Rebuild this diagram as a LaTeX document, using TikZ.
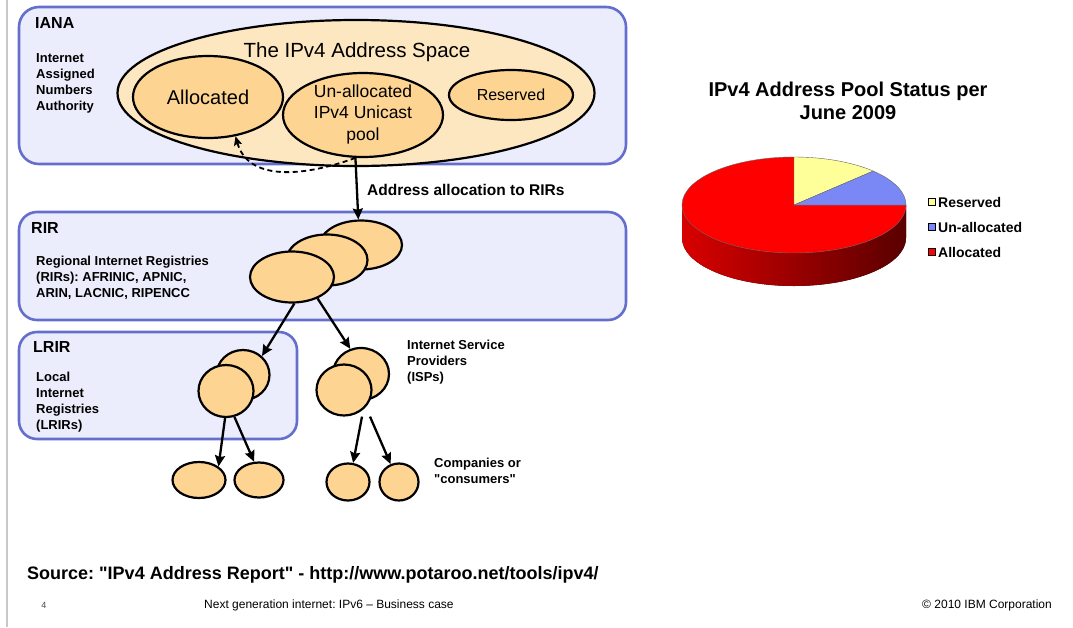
\documentclass[tikz,border=0pt]{standalone}
\usepackage{fontspec}
\setmainfont{Liberation Sans}
\usepackage{tikz}
\usetikzlibrary{positioning}
\usetikzlibrary{shapes.geometric, arrows.meta}
\frenchspacing
\definecolor{boxblue}{RGB}{100,110,205}
\definecolor{boxfill}{RGB}{236,237,252}
\definecolor{spacefill}{RGB}{253,231,192}
\definecolor{poolfill}{RGB}{253,212,146}
\definecolor{slicered}{RGB}{255,0,0}
\definecolor{sliceyellow}{RGB}{255,255,153}
\definecolor{sliceblue}{RGB}{122,136,245}
\definecolor{sidegray}{RGB}{200,200,200}
\tikzstyle{arrow} = [line width=2.3pt,-{Stealth[length=11pt,width=10pt,inset=1.5pt]}]
\tikzstyle{dasharrow} = [line width=1.8pt,dash pattern=on 5pt off 3.5pt,-{Stealth[length=9pt,width=8pt,inset=1.5pt]}]
\tikzset{
	groupbox/.style={draw=boxblue, line width=2.6pt, fill=boxfill, rounded corners=18pt, inner sep=0pt},
	outerell/.style={ellipse, draw, line width=2.2pt, fill=spacefill, inner sep=0pt},
	poolell/.style={ellipse, draw, line width=2.2pt, fill=poolfill, inner sep=0pt},
	heading/.style={font=\fontsize{16}{19}\selectfont\bfseries, anchor=west, inner sep=0pt},
	bodytext/.style={font=\fontsize{13}{16}\selectfont\bfseries, align=left, anchor=west, inner sep=0pt},
	legendbox/.style={draw, line width=1pt, minimum size=7pt, inner sep=0pt},
	legendtext/.style={font=\fontsize{14}{16}\selectfont\bfseries, inner sep=0pt}
}

\begin{document}
\begin{tikzpicture}[x=1pt, y=-1pt]
	%Frame
	\useasboundingbox (0,0) rectangle (1073,627);
	\fill[white] (0,0) rectangle (1073,627);
	\draw[sidegray, line width=1.5pt] (7,0) -- (7,627);
	
	%Boxes
	\node[groupbox, rounded corners=20pt, minimum width=607pt, minimum height=157pt] (iana) at (322.5,85.5) {};
	\node[groupbox, minimum width=607pt, minimum height=108pt] (rir) at (322.5,266) {};
	\node[groupbox, minimum width=278pt, minimum height=107pt] (lrir) at (158,385.5) {};
	
	\node[heading] (ianahead) at (35,23) {IANA};
	\node[bodytext] (ianabody) at (36,83) {Internet\\Assigned\\Numbers\\Authority};
	\node[heading] (rirhead) at (31,228) {RIR};
	\node[bodytext] (rirbody) at (36,278) {Regional Internet Registries\\(RIRs): AFRINIC, APNIC,\\ARIN, LACNIC, RIPENCC};
	\node[heading] (lrirhead) at (33,347) {LRIR};
	\node[bodytext] (lrirbody) at (36,402) {Local\\Internet\\Registries\\(LRIRs)};
	
	%Address space
	\node[outerell, minimum width=477pt, minimum height=146pt] (space) at (356,93) {};
	\node[font=\fontsize{20.5}{24}\selectfont, inner sep=0pt] (spacetitle) at (357,52) {The IPv4 Address Space};
	\node[poolell, minimum width=150pt, minimum height=82pt, font=\fontsize{20}{24}\selectfont] (alloc) at (208,97) {Allocated};
	\node[poolell, minimum width=160pt, minimum height=84pt] (unalloc) at (363,115) {};
	\node[font=\fontsize{17.5}{21.5}\selectfont, align=center, inner sep=0pt] (unalloctext) at (363,114) {Un-allocated\\IPv4 Unicast\\pool};
	\node[poolell, minimum width=124pt, minimum height=50pt, font=\fontsize{16}{19}\selectfont] (reserved) at (511,95) {Reserved};
	
	%Registries
	\node[poolell, minimum width=82pt, minimum height=49pt] (rirback) at (361,245) {};
	\node[poolell, minimum width=81pt, minimum height=51pt] (rirmid) at (327,260) {};
	\node[poolell, minimum width=84pt, minimum height=51pt] (rirfront) at (292,277) {};
	
	\node[poolell, minimum width=53pt, minimum height=50pt] (lrirback) at (243,375) {};
	\node[poolell, minimum width=55pt, minimum height=52pt] (lrirfront) at (226,391) {};
	\node[poolell, minimum width=56pt, minimum height=52pt] (ispback) at (361,374) {};
	\node[poolell, minimum width=55pt, minimum height=51pt] (ispfront) at (344,390) {};
	
	\node[poolell, minimum width=53pt, minimum height=36pt] (leafa) at (199,480) {};
	\node[poolell, minimum width=49pt, minimum height=35pt] (leafb) at (259,480) {};
	\node[poolell, minimum width=43pt, minimum height=37pt] (leafc) at (348,482) {};
	\node[poolell, minimum width=39pt, minimum height=37pt] (leafd) at (399,482) {};
	
	\node[bodytext] (isptext) at (407,362) {Internet Service\\Providers\\(ISPs)};
	\node[bodytext] (consumertext) at (434,471) {Companies or\\\textquotedbl consumers\textquotedbl};
	
	%Lines
	\draw[dasharrow] (unalloc.-100) .. controls (300,178) and (248,180) .. (alloc.-55);
	\draw[arrow] (unalloc.-100) -- (rirback.96);
	\node[font=\fontsize{15.5}{18}\selectfont\bfseries, anchor=west, inner sep=0pt] (alloclabel) at (367,190) {Address allocation to RIRs};
	\draw[arrow] (rirfront.-85) -- (lrirback.45);
	\draw[arrow] (rirfront.-40) -- (ispback.113);
	\draw[arrow] (lrirfront.-92) -- (leafa.north east);
	\draw[arrow] (lrirfront.-72) -- (leafb.105);
	\draw[arrow] ([xshift=18pt]ispfront.south) -- (leafc.75);
	\draw[arrow] ([xshift=26pt]ispfront.south) -- (leafd.115);
	
	%Pie chart
	\node[font=\fontsize{20}{23}\selectfont\bfseries, align=center, inner sep=0pt] (pietitle) at (848,101) {IPv4 Address Pool Status per\\June 2009};
	\fill[left color=red!85!black, right color=red!35!black] (906,205) arc (0:180:112 and 48) -- (682,238) arc (180:0:112 and 48) -- cycle;
	\filldraw[fill=slicered, draw=black!60, line width=0.4pt] (794,205) -- (906,205) arc (0:270:112 and 48) -- cycle;
	\filldraw[fill=sliceyellow, draw=black!60, line width=0.4pt] (794,205) -- (794,157) arc (270:315:112 and 48) -- cycle;
	\filldraw[fill=sliceblue, draw=black!60, line width=0.4pt] (794,205) -- +(315:112 and 48) arc (315:360:112 and 48) -- cycle;
	
	\node[legendbox, fill=sliceyellow] (keyres) at (931.5,202) {};
	\node[legendtext, right=2.5pt of keyres] (keyrestext) {Reserved};
	\node[legendbox, fill=sliceblue] (keyfree) at (931.5,227) {};
	\node[legendtext, right=2.5pt of keyfree] (keyfreetext) {Un-allocated};
	\node[legendbox, fill=slicered] (keyalloc) at (931.5,252) {};
	\node[legendtext, right=2.5pt of keyalloc] (keyalloctext) {Allocated};
	
	%Footer
	\node[font=\fontsize{18}{20}\selectfont\bfseries, anchor=west, inner sep=0pt] (source) at (27,575) {Source: \textquotedbl IPv4 Address Report\textquotedbl{} - http://www.potaroo.net/tools/ipv4/};
	\node[font=\fontsize{9}{10}\selectfont, text=black!70, inner sep=0pt] (pagenum) at (44,605) {4};
	\node[font=\fontsize{12}{14}\selectfont, anchor=west, inner sep=0pt] (footer) at (204,605) {Next generation internet: IPv6 – Business case};
	\node[font=\fontsize{12}{14}\selectfont, anchor=east, inner sep=0pt] (copyright) at (1052,605) {© 2010 IBM Corporation};
\end{tikzpicture}
\end{document}
